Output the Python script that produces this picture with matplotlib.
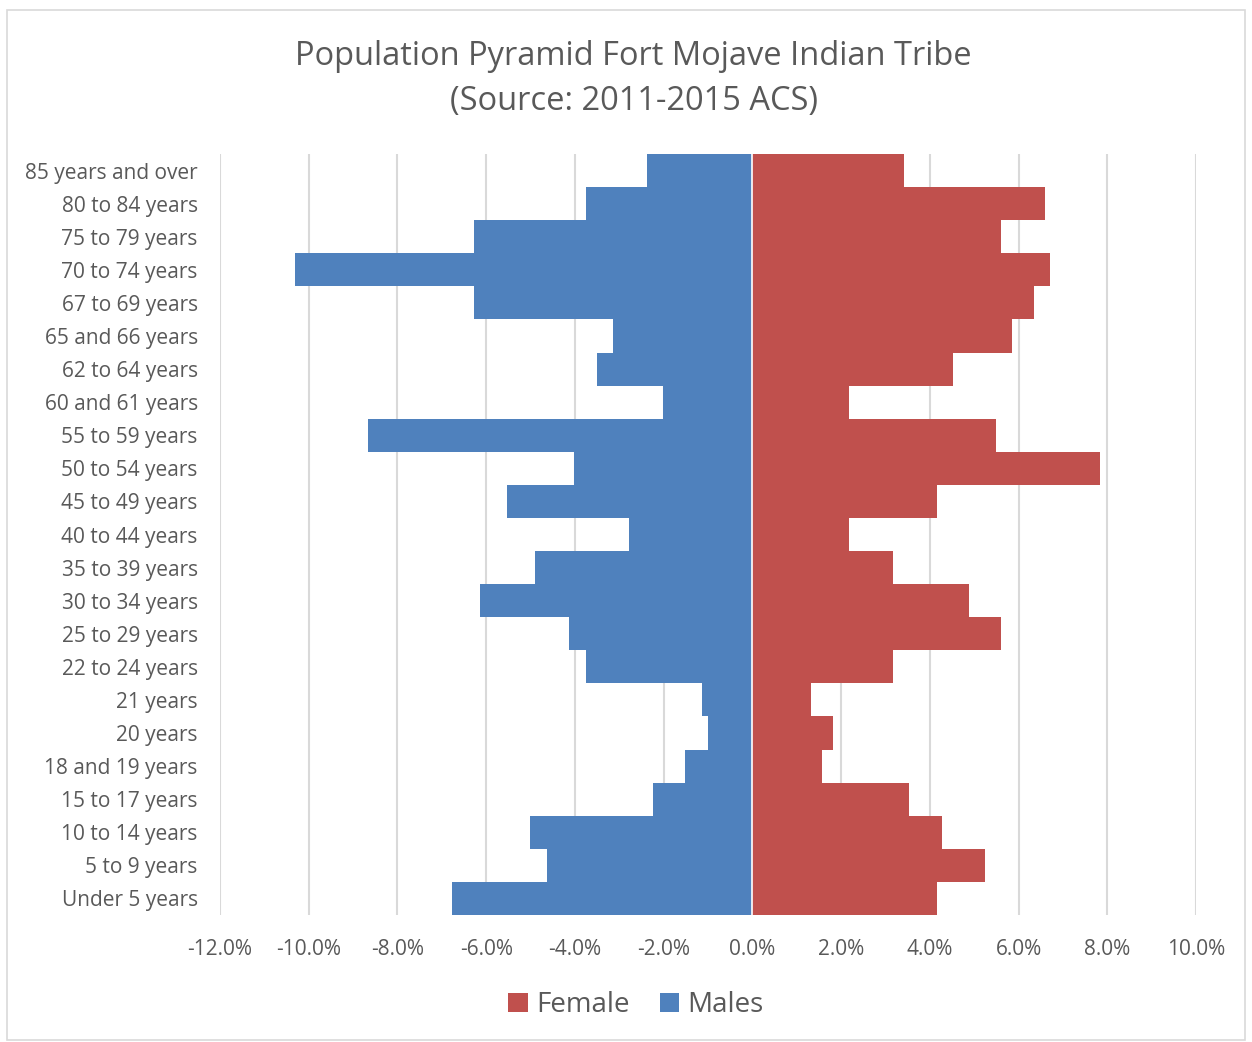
import matplotlib.pyplot as plt
import numpy as np
from matplotlib.patches import Rectangle

plt.rcParams['font.family'] = ['Open Sans', 'DejaVu Sans']

faixas = ["85 years and over", "80 to 84 years", "75 to 79 years", "70 to 74 years",
          "67 to 69 years", "65 and 66 years", "62 to 64 years", "60 and 61 years",
          "55 to 59 years", "50 to 54 years", "45 to 49 years", "40 to 44 years",
          "35 to 39 years", "30 to 34 years", "25 to 29 years", "22 to 24 years",
          "21 years", "20 years", "18 and 19 years", "15 to 17 years",
          "10 to 14 years", "5 to 9 years", "Under 5 years"]

homens = [-2.38, -3.76, -6.27, -10.30, -6.28, -3.14, -3.51, -2.01, -8.67, -4.01,
          -5.52, -2.77, -4.89, -6.15, -4.14, -3.76, -1.13, -1.01, -1.51, -2.25,
          -5.02, -4.64, -6.78]

mulheres = [3.42, 6.60, 5.61, 6.71, 6.35, 5.86, 4.53, 2.18, 5.50, 7.84,
            4.17, 2.18, 3.18, 4.89, 5.61, 3.18, 1.33, 1.82, 1.58, 3.54,
            4.28, 5.25, 4.17]

cinza = '#595959'
azul = '#4f81bd'
vermelho = '#c0504d'

fig = plt.figure(figsize=(12.52, 10.42), dpi=100)
ax = fig.add_axes([220 / 1252, 1 - 915 / 1042, 976 / 1252, 761 / 1042])

y = np.arange(len(faixas))[::-1]
ax.barh(y, mulheres, height=1.0, color=vermelho, linewidth=0, label='Female', zorder=3)
ax.barh(y, homens, height=1.0, color=azul, linewidth=0, label='Males', zorder=3)
# fina separacao branca no zero
ax.axvline(0, color='white', linewidth=1.2, zorder=4)

ax.set_xlim(-12, 10)
ax.set_ylim(-0.5, len(faixas) - 0.5)
ax.set_xticks(np.arange(-12, 11, 2))
ax.set_xticklabels([f"{v:.1f}%" for v in np.arange(-12, 11, 2)])
ax.set_yticks(y)
ax.set_yticklabels(faixas)
ax.tick_params(axis='both', length=0, labelsize=15, colors=cinza)
ax.tick_params(axis='x', pad=17)
ax.tick_params(axis='y', pad=16)
ax.grid(axis='x', color='#d9d9d9', linewidth=1.5, zorder=0)
for s in ax.spines.values():
    s.set_visible(False)

fig.text(0.506, 1 - 79 / 1042, "Population Pyramid Fort Mojave Indian Tribe\n(Source: 2011-2015 ACS)",
         ha='center', va='center', fontsize=23.5, color=cinza, linespacing=1.5)

ax.legend(loc='center', bbox_to_anchor=(0.508, 1 - 1005 / 1042), bbox_transform=fig.transFigure,
          ncol=2, frameon=False, fontsize=20, labelcolor=cinza, handlelength=0.7, handleheight=0.7,
          handletextpad=0.3, columnspacing=1.1)

fig.patches.append(Rectangle((7 / 1252, 0.002), 1 - 14 / 1252, 1 - 12 / 1042, transform=fig.transFigure,
                             fill=False, edgecolor='#d9d9d9', linewidth=1.2))

fig.savefig('out.png', dpi=100)
